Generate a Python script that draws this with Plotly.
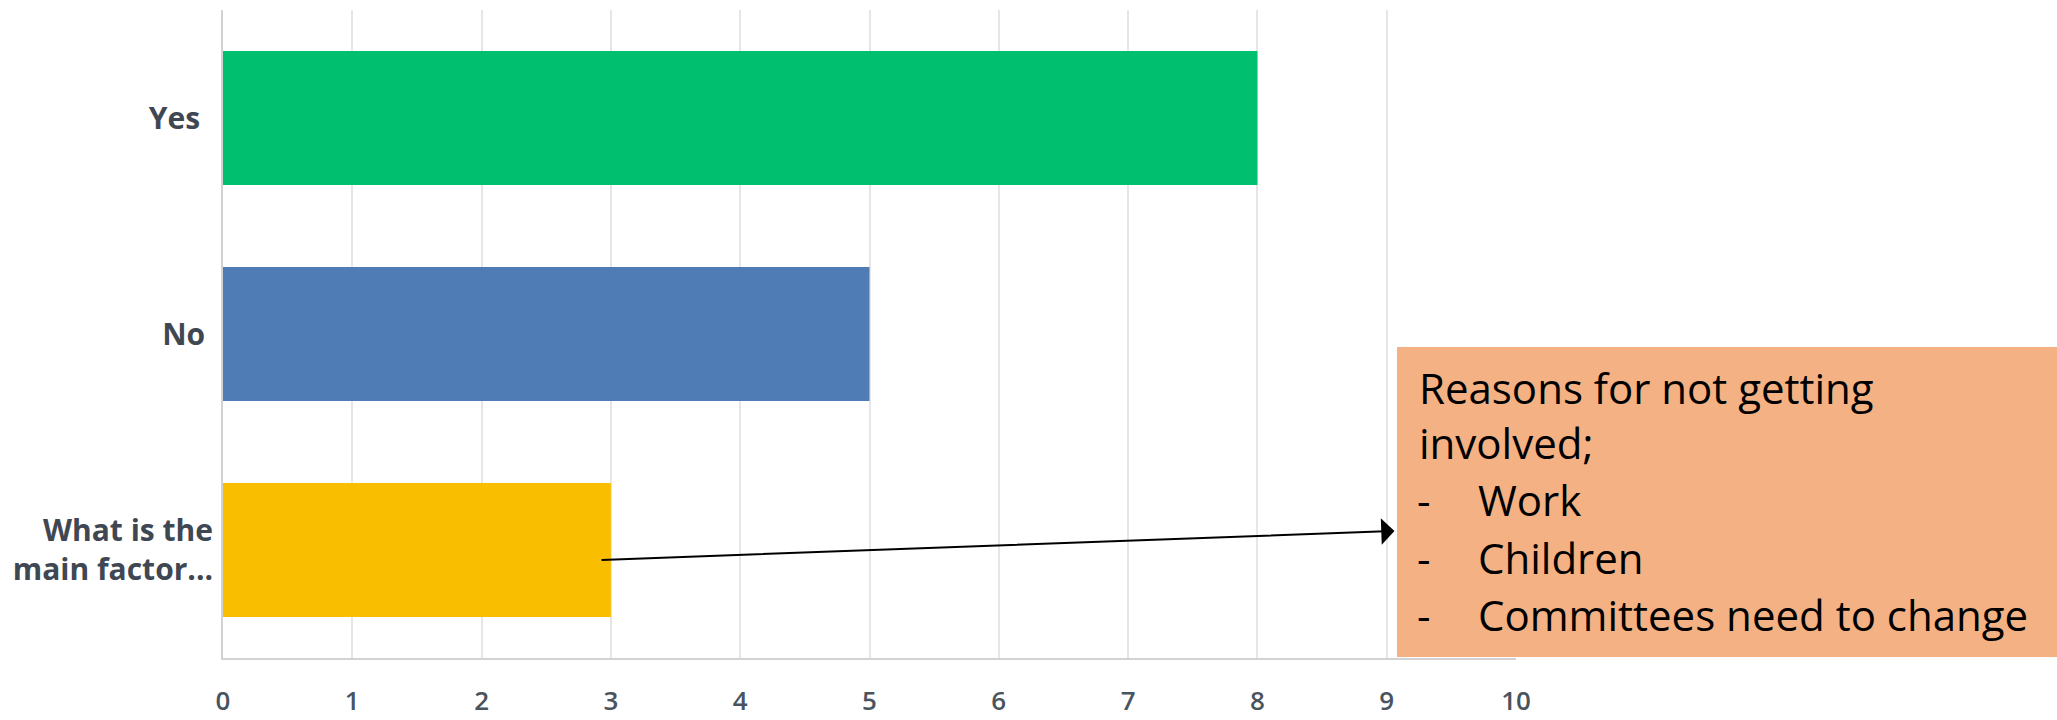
import plotly.graph_objects as go

categories = ["Yes", "No", "What is the main factor..."]
category_labels = ["Yes\u00a0\u2009", "No\u00a0", "What is the<br>main factor..."]
values = [8, 5, 3]
bar_colors = ["#00bf6f", "#507cb6", "#f9be00"]
x_ticks = list(range(0, 11))

box_title = ["Reasons for not getting", "involved;"]
box_items = ["Work", "Children", "Committees need to change"]

W, H = 2057, 720
L, R, T, B = 223, 541, 10, 62
PW, PH = W - L - R, H - T - B


def px_x(p):
    return (p - L) / PW


def px_y(p):
    return (H - B - p) / PH


fig = go.Figure()
fig.add_trace(go.Bar(
    x=values, y=categories, orientation="h",
    marker=dict(color=bar_colors, line=dict(width=0)),
    width=0.62, hoverinfo="skip",
))

# orange note box
fig.add_shape(type="rect", xref="paper", yref="paper",
              x0=px_x(1397), x1=px_x(2060), y0=px_y(657), y1=px_y(347),
              fillcolor="#f4b183", line=dict(width=0), layer="above")

font_box = dict(family="Open Sans", size=42, color="#000000")
baselines = [401, 456, 513, 571, 628]
centers = [b - 14 for b in baselines]
for i, t in enumerate(box_title):
    fig.add_annotation(text=t, xref="paper", yref="paper", x=px_x(1417), y=px_y(centers[i]),
                       xanchor="left", yanchor="middle", showarrow=False, font=font_box)
for j, t in enumerate(box_items):
    cy = px_y(centers[2 + j])
    fig.add_annotation(text="-", xref="paper", yref="paper", x=px_x(1415), y=cy,
                       xanchor="left", yanchor="middle", showarrow=False, font=font_box)
    fig.add_annotation(text=t, xref="paper", yref="paper", x=px_x(1476), y=cy,
                       xanchor="left", yanchor="middle", showarrow=False, font=font_box)

# arrow from bar to box
fig.add_annotation(x=9.06, y=1.912, ax=2.916, ay=2.046, xref="x", yref="y",
                   axref="x", ayref="y", text="", showarrow=True,
                   arrowhead=1, arrowsize=2.2, arrowwidth=2, arrowcolor="#000000")

fig.update_layout(
    width=W, height=H,
    margin=dict(l=L, r=R, t=T, b=B, pad=0),
    paper_bgcolor="#ffffff", plot_bgcolor="#ffffff",
    showlegend=False,
    xaxis=dict(range=[0, 10], tickvals=x_ticks, ticktext=[str(v) for v in x_ticks],
               showgrid=True, gridcolor="#e6e6e6", gridwidth=2,
               showline=True, linecolor="#d2d2d2", linewidth=2,
               zeroline=False, ticks="", ticklabelstandoff=19, automargin=False,
               tickfont=dict(family="Open Sans", size=26, color="#4a545e", weight=600)),
    yaxis=dict(range=[2.5, -0.5], type="category",
               tickvals=categories, ticktext=category_labels,
               showgrid=False, showline=True, linecolor="#d2d2d2", linewidth=2,
               zeroline=False, ticks="", ticklabelstandoff=2, automargin=False,
               tickfont=dict(family="Open Sans", size=30, color="#3f4852", weight="bold")),
)

fig.write_html("out.html", config={"displayModeBar": False},
               post_script="document.body.style.margin='0';document.body.style.overflow='hidden';")
